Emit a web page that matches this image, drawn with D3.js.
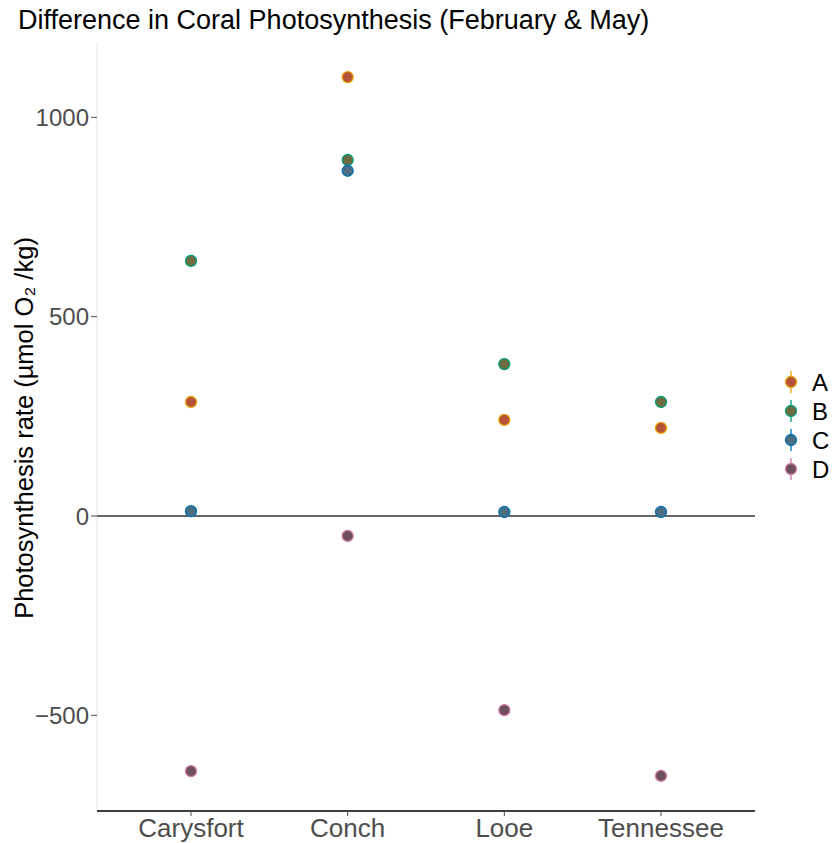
<!DOCTYPE html>
<html>
<head>
<meta charset="utf-8">
<script src="https://cdn.jsdelivr.net/npm/d3@7"></script>
<style>
  body { margin: 0; background: #fff; }
  svg { display: block; font-family: "Liberation Sans", Arial, sans-serif; }
</style>
</head>
<body>
<svg id="chart" width="837" height="843"></svg>
<script>
const sites = ["Carysfort", "Conch", "Looe", "Tennessee"];
const groups = ["A", "B", "C", "D"];
const valuesA = [286, 1101, 241, 221];
const valuesB = [640, 893, 381, 286];
const valuesC = [12, 866, 10, 10];
const valuesD = [-640, -50, -487, -652];
const yTicks = [-500, 0, 500, 1000];

const strokeColors = { A: "#E69F00", B: "#009E73", C: "#0072B2", D: "#CC79A7" };
const fillColors = { A: "#B4533A", B: "#6F6B43", C: "#4D6E82", D: "#6E4F5E" };

const seriesValues = { A: valuesA, B: valuesB, C: valuesC, D: valuesD };
const points = groups.flatMap((g) =>
  sites.map((site, i) => ({ group: g, site, value: seriesValues[g][i] }))
);

const svg = d3.select("#chart");
const margin = { top: 42, right: 82, bottom: 32, left: 97 };
const width = 837;
const height = 843;

// ggplot-like discrete expansion: 0.6 units each side
const x = d3.scalePoint()
  .domain(sites)
  .range([margin.left, width - margin.right])
  .padding(0.6);
const xc = (site) => x(site);

const y = d3.scaleLinear()
  .domain([-740, 1189])
  .range([height - margin.bottom, margin.top]);

// faint left axis line
svg.append("line")
  .attr("x1", margin.left).attr("x2", margin.left)
  .attr("y1", margin.top).attr("y2", height - margin.bottom)
  .attr("stroke", "#e6e6e6").attr("stroke-width", 1);

// y axis ticks and labels
const yAxis = svg.append("g").attr("transform", `translate(${margin.left},0)`);
yAxis.selectAll("line").data(yTicks).join("line")
  .attr("x1", -6).attr("x2", 0)
  .attr("y1", (d) => y(d)).attr("y2", (d) => y(d))
  .attr("stroke", "#4d4d4d").attr("stroke-width", 1);
yAxis.selectAll("text").data(yTicks).join("text")
  .attr("x", -8).attr("y", (d) => y(d))
  .attr("dy", "0.36em")
  .attr("text-anchor", "end")
  .attr("fill", "#4d4d4d")
  .attr("font-size", 24)
  .text((d) => d < 0 ? "\u2212" + Math.abs(d) : d);

// x axis line
const xAxisY = height - margin.bottom;
svg.append("line")
  .attr("x1", margin.left).attr("x2", width - margin.right)
  .attr("y1", xAxisY).attr("y2", xAxisY)
  .attr("stroke", "#000").attr("stroke-width", 1.6);
const xAxis = svg.append("g");
xAxis.selectAll("line").data(sites).join("line")
  .attr("x1", (d) => xc(d)).attr("x2", (d) => xc(d))
  .attr("y1", xAxisY).attr("y2", xAxisY + 5)
  .attr("stroke", "#4d4d4d");
xAxis.selectAll("text").data(sites).join("text")
  .attr("x", (d) => xc(d)).attr("y", xAxisY + 26)
  .attr("text-anchor", "middle")
  .attr("fill", "#4d4d4d")
  .attr("font-size", 26)
  .text((d) => d);

// zero line
svg.append("line")
  .attr("x1", margin.left).attr("x2", width - margin.right)
  .attr("y1", y(0)).attr("y2", y(0))
  .attr("stroke", "#333").attr("stroke-width", 1.6);

// points
svg.append("g").selectAll("circle").data(points).join("circle")
  .attr("cx", (d) => xc(d.site))
  .attr("cy", (d) => y(d.value))
  .attr("r", 5.5)
  .attr("fill", (d) => fillColors[d.group])
  .attr("stroke", (d) => strokeColors[d.group])
  .attr("stroke-width", 1.3);

// title
svg.append("text")
  .attr("x", 18).attr("y", 29)
  .attr("font-size", 27)
  .attr("fill", "#000")
  .text("Difference in Coral Photosynthesis (February & May)");

// y label
svg.append("text")
  .attr("transform", `translate(33, 428) rotate(-90)`)
  .attr("text-anchor", "middle")
  .attr("font-size", 25.5)
  .attr("fill", "#000")
  .text("Photosynthesis rate (\u00b5mol O\u2082 /kg)");

// legend
const legend = svg.append("g").attr("transform", "translate(791, 382)");
const keys = legend.selectAll("g").data(groups).join("g")
  .attr("transform", (d, i) => `translate(0, ${i * 29})`);
keys.append("line")
  .attr("y1", -11).attr("y2", 11)
  .attr("stroke", (d) => strokeColors[d]).attr("stroke-width", 1.3);
keys.append("circle")
  .attr("r", 5.5)
  .attr("fill", (d) => fillColors[d])
  .attr("stroke", (d) => strokeColors[d])
  .attr("stroke-width", 1.3);
keys.append("text")
  .attr("x", 21).attr("dy", "0.36em")
  .attr("font-size", 24)
  .attr("fill", "#000")
  .text((d) => d);
</script>
</body>
</html>
